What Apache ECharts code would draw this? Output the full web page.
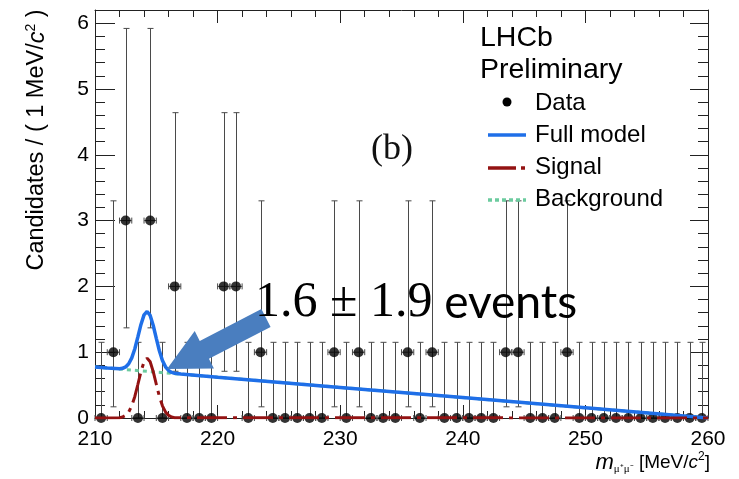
<!DOCTYPE html>
<html>
<head>
<meta charset="utf-8">
<script src="https://cdn.jsdelivr.net/npm/echarts@6/dist/echarts.min.js"></script>
<style>
  html, body { margin: 0; padding: 0; background: #ffffff; }
  #chart { width: 739px; height: 479px; }
</style>
</head>
<body>
<div id="chart"></div>
<script>
// Dimuon invariant mass spectrum, 1 MeV/c^2 bins from 210 to 260
const binCenters = [
  210.5, 211.5, 212.5, 213.5, 214.5, 215.5, 216.5, 217.5, 218.5, 219.5,
  220.5, 221.5, 222.5, 223.5, 224.5, 225.5, 226.5, 227.5, 228.5, 229.5,
  230.5, 231.5, 232.5, 233.5, 234.5, 235.5, 236.5, 237.5, 238.5, 239.5,
  240.5, 241.5, 242.5, 243.5, 244.5, 245.5, 246.5, 247.5, 248.5, 249.5,
  250.5, 251.5, 252.5, 253.5, 254.5, 255.5, 256.5, 257.5, 258.5, 259.5
];
const counts = [
  0, 1, 3, 0, 3, 0, 2, 0, 0, 0,
  2, 2, 0, 1, 0, 0, 0, 0, 0, 1,
  0, 1, 0, 0, 0, 1, 0, 1, 0, 0,
  0, 0, 0, 1, 1, 0, 0, 0, 1, 0,
  0, 0, 0, 0, 0, 0, 0, 0, 0, 0
];
// 68% Poisson interval edges, indexed by the bin count
const poissonLow  = [0, 0.17, 0.71, 1.37];
const poissonHigh = [1.15, 3.30, 4.64, 5.92];

// Fitted model curves
const modelX = [210, 211, 212, 212.25, 212.5, 212.75, 213, 213.25, 213.5, 213.75, 214, 214.25,
                214.5, 214.75, 215, 215.25, 215.5, 215.75, 216, 216.25, 216.5, 217, 220, 230, 240, 250, 260];
const modelY = [0.775, 0.76, 0.749, 0.755, 0.776, 0.824, 0.914, 1.053, 1.234, 1.422, 1.567, 1.619,
                1.559, 1.406, 1.211, 1.022, 0.875, 0.778, 0.722, 0.693, 0.679, 0.667, 0.62, 0.465, 0.31, 0.155, 0];
const signalX = [210, 212, 212.25, 212.5, 212.75, 213, 213.25, 213.5, 213.75, 214, 214.25,
                 214.5, 214.75, 215, 215.25, 215.5, 215.75, 216, 216.25, 216.5, 260];
const signalY = [0, 0.005, 0.015, 0.04, 0.092, 0.185, 0.328, 0.513, 0.705, 0.854, 0.91,
                 0.854, 0.705, 0.513, 0.328, 0.185, 0.092, 0.04, 0.015, 0.005, 0];
const backgroundX = [210, 260];
const backgroundY = [0.775, 0];

const xTickLabels = [210, 220, 230, 240, 250, 260];
const yTickLabels = [0, 1, 2, 3, 4, 5, 6];
const yieldText = ['1.6 ± 1.9', 'events'];

const pair = (xs, ys) => xs.map((x, i) => [x, ys[i]]);
const dataPoints = binCenters.map((x, i) => [x, counts[i]]);
const errorData = binCenters.map((x, i) => [x, counts[i], poissonLow[counts[i]], poissonHigh[counts[i]]]);

const SANS = '"Liberation Sans", Arial, sans-serif';
const SERIF = '"Liberation Serif", "Times New Roman", serif';
const BLUE = '#1f6fe8';
const RED = '#931212';
const GREEN = '#6ccb9f';
const AXIS = '#222';

const chart = echarts.init(document.getElementById('chart'), null, { renderer: 'canvas' });

function errorBars(params, api) {
  const x = api.value(0), y = api.value(1), lo = api.value(2), hi = api.value(3);
  const c = api.coord([x, y]);
  const pLo = api.coord([x, lo]);
  const pHi = api.coord([x, hi]);
  const pL = api.coord([x - 0.5, y]);
  const pR = api.coord([x + 0.5, y]);
  const cap = 3;
  const st = { stroke: '#4a4a4a', lineWidth: 1 };
  const ln = (x1, y1, x2, y2) => ({ type: 'line', shape: { x1, y1, x2, y2 }, style: st });
  const px = Math.round(c[0]) + 0.5;
  return {
    type: 'group',
    children: [
      ln(px, pLo[1], px, pHi[1]),
      ln(px - cap, pHi[1], px + cap, pHi[1]),
      ln(px - cap, pLo[1], px + cap, pLo[1]),
      ln(pL[0], c[1], pR[0], c[1]),
      ln(pL[0], c[1] - cap, pL[0], c[1] + cap),
      ln(pR[0], c[1] - cap, pR[0], c[1] + cap)
    ]
  };
}

// Block arrow pointing at the signal peak
function arrowPoints(tip, tail, headLen, headHalf, shaftHalf) {
  const dx = tail[0] - tip[0], dy = tail[1] - tip[1];
  const L = Math.hypot(dx, dy);
  const d = [dx / L, dy / L], n = [-d[1], d[0]];
  const b = [tip[0] + d[0] * headLen, tip[1] + d[1] * headLen];
  const p = (o, s) => [o[0] + n[0] * s, o[1] + n[1] * s];
  return [tip, p(b, headHalf), p(b, shaftHalf), p(tail, shaftHalf), p(tail, -shaftHalf), p(b, -shaftHalf), p(b, -headHalf)];
}

const axisCommon = {
  type: 'value',
  axisLine: { show: true, onZero: false, lineStyle: { color: AXIS, width: 1 } },
  splitLine: { show: false },
  minorSplitLine: { show: false }
};

const legendX = 488;
const option = {
  animation: false,
  backgroundColor: '#ffffff',
  grid: { left: 95, right: 31, top: 10, bottom: 61, containLabel: false },
  xAxis: [
    Object.assign({}, axisCommon, {
      position: 'bottom', min: 210, max: 260, interval: 10,
      axisTick: { show: true, inside: true, length: 13, lineStyle: { color: AXIS } },
      minorTick: { show: true, splitNumber: 5, length: 7, lineStyle: { color: AXIS } },
      axisLabel: {
        show: true, margin: 11, color: '#000', fontFamily: SANS, fontSize: 21,
        formatter: v => (xTickLabels.includes(v) ? String(v) : '')
      }
    }),
    Object.assign({}, axisCommon, {
      position: 'top', min: 210, max: 260, interval: 10,
      axisTick: { show: true, inside: true, length: 13, lineStyle: { color: AXIS } },
      minorTick: { show: true, splitNumber: 5, length: 7, lineStyle: { color: AXIS } },
      axisLabel: { show: false }
    })
  ],
  yAxis: [
    Object.assign({}, axisCommon, {
      position: 'left', min: 0, max: 6.2, interval: 1,
      axisTick: { show: true, inside: true, length: 20, lineStyle: { color: AXIS } },
      minorTick: { show: true, splitNumber: 5, length: 10, lineStyle: { color: AXIS } },
      axisLabel: {
        show: true, margin: 6, color: '#000', fontFamily: SANS, fontSize: 21,
        showMaxLabel: false,
        formatter: v => (yTickLabels.includes(v) ? String(v) : '')
      }
    }),
    Object.assign({}, axisCommon, {
      position: 'right', min: 0, max: 6.2, interval: 1,
      axisTick: { show: true, inside: true, length: 18, lineStyle: { color: AXIS } },
      minorTick: { show: true, splitNumber: 5, length: 10, lineStyle: { color: AXIS } },
      axisLabel: { show: false }
    })
  ],
  series: [
    {
      name: 'Background', type: 'line', data: pair(backgroundX, backgroundY),
      showSymbol: false, z: 3,
      lineStyle: { color: GREEN, width: 3, type: [4, 4] }
    },
    {
      name: 'Errors', type: 'custom', data: errorData, renderItem: errorBars, z: 2,
      encode: { x: 0, y: 1 }
    },
    {
      name: 'Data', type: 'scatter', data: dataPoints, symbol: 'circle', symbolSize: 10, z: 4,
      itemStyle: { color: '#000' }
    },
    {
      name: 'Full model', type: 'line', data: pair(modelX, modelY), showSymbol: false, z: 5,
      lineStyle: { color: BLUE, width: 3.5 }
    },
    {
      name: 'Signal', type: 'line', data: pair(signalX, signalY), showSymbol: false, z: 6,
      lineStyle: { color: RED, width: 3, type: [30, 6, 4, 6] }
    }
  ],
  graphic: [
    // y-axis title
    {
      type: 'text', x: 37, y: 140, rotation: Math.PI / 2, z: 10,
      style: {
        text: '{n|Candidates / ( 1 MeV/}{i|c}{s|2}{n| )}',
        align: 'center', verticalAlign: 'middle',
        rich: {
          n: { fontFamily: SANS, fontSize: 23.5, fill: '#000', lineHeight: 26 },
          i: { fontFamily: SANS, fontSize: 23.5, fontStyle: 'italic', fill: '#000', lineHeight: 26 },
          s: { fontFamily: SANS, fontSize: 14, fill: '#000', verticalAlign: 'top', lineHeight: 26 }
        }
      }
    },
    // x-axis title
    {
      type: 'text', x: 710, y: 463, z: 10,
      style: {
        text: '{i|m}{sub|μ⁺μ⁻}{n| [MeV/}{i2|c}{s|2}{n|]}',
        align: 'right', verticalAlign: 'middle',
        rich: {
          n: { fontFamily: SANS, fontSize: 19, fill: '#000', lineHeight: 24 },
          i: { fontFamily: SANS, fontSize: 22, fontStyle: 'italic', fill: '#000', lineHeight: 24 },
          i2: { fontFamily: SANS, fontSize: 19, fontStyle: 'italic', fill: '#000', lineHeight: 24 },
          sub: { fontFamily: SERIF, fontSize: 11, fill: '#000', verticalAlign: 'bottom', lineHeight: 24 },
          s: { fontFamily: SANS, fontSize: 12, fill: '#000', verticalAlign: 'top', lineHeight: 24 }
        }
      }
    },
    { type: 'text', x: 392, y: 150, z: 10,
      style: { text: '(b)', font: '36px ' + SERIF, fill: '#111', align: 'center', verticalAlign: 'middle' } },
    // legend block
    { type: 'text', x: 480, y: 38, z: 10,
      style: { text: 'LHCb', font: '28.5px ' + SANS, fill: '#000', verticalAlign: 'middle' } },
    { type: 'text', x: 480, y: 70, z: 10,
      style: { text: 'Preliminary', font: '28.5px ' + SANS, fill: '#000', verticalAlign: 'middle' } },
    { type: 'circle', shape: { cx: 507, cy: 102, r: 4.5 }, style: { fill: '#000' }, z: 10 },
    { type: 'text', x: 535, y: 103, z: 10,
      style: { text: 'Data', font: '24px ' + SANS, fill: '#000', verticalAlign: 'middle' } },
    { type: 'line', shape: { x1: legendX, y1: 135, x2: 526, y2: 135 }, z: 10,
      style: { stroke: BLUE, lineWidth: 3.5 } },
    { type: 'text', x: 535, y: 135, z: 10,
      style: { text: 'Full model', font: '24px ' + SANS, fill: '#000', verticalAlign: 'middle' } },
    { type: 'line', shape: { x1: legendX, y1: 168, x2: 516, y2: 168 }, z: 10,
      style: { stroke: RED, lineWidth: 3.5 } },
    { type: 'line', shape: { x1: 521, y1: 168, x2: 525, y2: 168 }, z: 10,
      style: { stroke: RED, lineWidth: 3.5 } },
    { type: 'text', x: 535, y: 167, z: 10,
      style: { text: 'Signal', font: '24px ' + SANS, fill: '#000', verticalAlign: 'middle' } },
    { type: 'line', shape: { x1: legendX, y1: 200, x2: 526, y2: 200 }, z: 10,
      style: { stroke: GREEN, lineWidth: 3.5, lineDash: [4, 3] } },
    { type: 'text', x: 535, y: 199, z: 10,
      style: { text: 'Background', font: '24px ' + SANS, fill: '#000', verticalAlign: 'middle' } },
    // yield annotation
    { type: 'polygon', z: 12,
      shape: { points: arrowPoints([167, 369], [266, 318], 42, 21, 10) },
      style: { fill: '#4a7ebf' } },
    { type: 'text', x: 255, y: 303, z: 12,
      style: {
        text: '{a|' + yieldText[0] + '}{b| ' + yieldText[1] + '}',
        verticalAlign: 'middle',
        rich: {
          a: { fontFamily: SERIF, fontSize: 50, fill: '#000' },
          b: { fontFamily: 'Lato, "Open Sans", sans-serif', fontSize: 46, fill: '#000' }
        }
      }
    }
  ]
};

chart.setOption(option);
</script>
</body>
</html>
